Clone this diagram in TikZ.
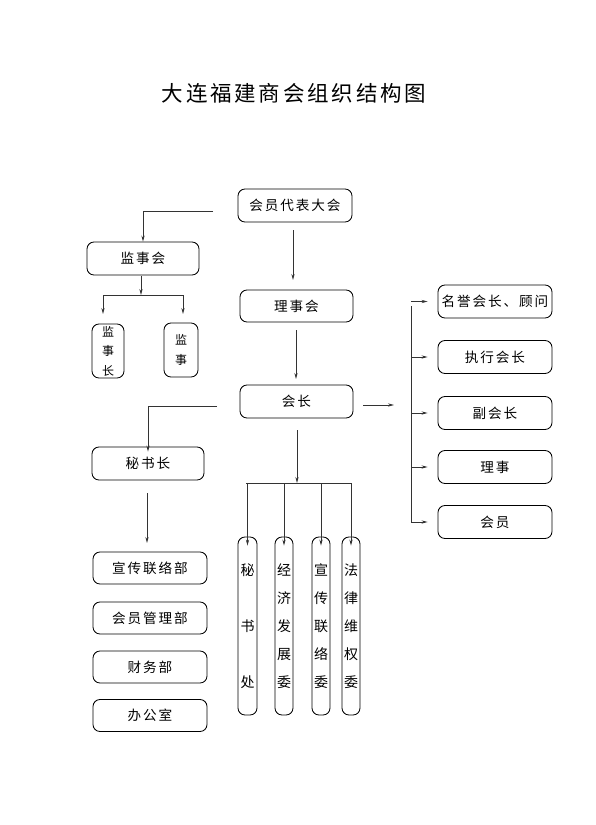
\documentclass[tikz,border=0pt]{standalone}
\usepackage{fontspec}
\newfontfamily\cjk[LetterSpace=14]{Noto Sans CJK SC}
\newfontfamily\cjktitle[LetterSpace=13]{Noto Sans CJK SC}
\usetikzlibrary{arrows.meta}
\begin{document}
\begin{tikzpicture}[x=1pt,y=-1pt,
  box/.style={draw=black, line width=0.85pt, rounded corners=7pt, inner sep=0pt,
    font=\cjk\fontsize{13.6}{16}\selectfont},
  hbox/.style={box, minimum width=114pt, minimum height=33pt},
  vbox/.style={box, minimum width=18pt, minimum height=178pt, align=center,
    font=\cjk\fontsize{14}{28}\selectfont},
  line/.style={draw=black!80, line width=0.7pt},
  arr/.style={line, -{Stealth[length=6pt,width=3.2pt]}},
]
\useasboundingbox (0,0) rectangle (595,825);
\node[font=\cjktitle\fontsize{21.5}{24}\selectfont] (title) at (294,93) {大连福建商会组织结构图};

% main column
\node[hbox] (dbdh) at (295,205.5) {会员代表大会};
\node[hbox, minimum width=113pt, minimum height=32pt] (lsh) at (296.5,306) {理事会};
\node[hbox, minimum width=113pt] (hz) at (296.5,401.5) {会长};

% supervisory
\node[hbox, minimum width=112pt] (jsh) at (143,258.5) {监事会};
\node[box, minimum width=32pt, minimum height=54pt, align=center,
  font=\cjk\fontsize{12}{19.5}\selectfont] (jsz) at (108,351) {监\\事\\长};
\node[box, minimum width=34pt, minimum height=54pt, align=center,
  font=\cjk\fontsize{12}{20}\selectfont] (js2) at (181,350) {监\\事};

% secretary-general
\node[hbox, minimum width=112pt] (msz) at (148,463.5) {秘书长};
\node[hbox, minimum height=32pt] (xclb) at (150,568) {宣传联络部};
\node[hbox, minimum height=32pt] (hygl) at (150,618) {会员管理部};
\node[hbox, minimum height=32pt] (cwb) at (150,667) {财务部};
\node[hbox, minimum height=32pt] (bgs) at (150,715.5) {办公室};

% committees
\node[vbox, minimum width=19pt, font=\cjk\fontsize{14}{56}\selectfont] (v1) at (247.5,626) {秘\\书\\处};
\node[vbox] (v2) at (284,626) {经\\济\\发\\展\\委};
\node[vbox] (v3) at (321,626) {宣\\传\\联\\络\\委};
\node[vbox] (v4) at (351,626) {法\\律\\维\\权\\委};

% right column
\node[hbox] (r1) at (495,301.5) {名誉会长、顾问};
\node[hbox] (r2) at (495,357) {执行会长};
\node[hbox] (r3) at (495,413) {副会长};
\node[hbox] (r4) at (495,467) {理事};
\node[hbox] (r5) at (495,522) {会员};

% coordinates for free ends
\coordinate (c1) at (213,211);
\coordinate (c2s) at (293,230); \coordinate (c2e) at (293,280);
\coordinate (c3s) at (141,276); \coordinate (c3e) at (141,295);
\coordinate (b1l) at (103,295); \coordinate (b1r) at (183,295);
\coordinate (b1la) at (103,314); \coordinate (b1ra) at (183,314);
\coordinate (c4s) at (296,330); \coordinate (c4e) at (296,379);
\coordinate (c5) at (217,406);
\coordinate (c6s) at (297,430); \coordinate (c6e) at (297,483);
\coordinate (b2l) at (246,483); \coordinate (b2r) at (352,483);
\coordinate (c7s) at (363,405); \coordinate (c7e) at (394,405);
\coordinate (bt) at (411,306); \coordinate (bb) at (411,522);
\coordinate (c9s) at (147,493); \coordinate (c9e) at (147,543);

% connectors
\draw[arr] (c1) -| (jsh.north);
\draw[arr] (c2s) -- (c2e);
\draw[arr] (c3s) -- (c3e);
\draw[line, line width=1pt] (b1l) -- (b1r);
\draw[arr] (b1l) -- (b1la);
\draw[arr] (b1r) -- (b1ra);
\draw[arr] (c4s) -- (c4e);
\draw[arr] (c5) -| ([yshift=-5pt]msz.north);
\draw[arr] (c6s) -- (c6e);
\draw[line, line width=1pt] (b2l) -- (b2r);
\foreach \v in {v1,v2,v3,v4}{
  \draw[arr] (b2l -| \v) -- ([yshift=-9pt]\v.north);
}
\draw[arr] (c7s) -- (c7e);
\draw[line] (bt) -- (bb);
\foreach \r in {r1,r2,r3,r4,r5}{
  \draw[arr] (bt |- \r) -- ([xshift=-10pt]\r.west);
}
\draw[arr] (c9s) -- (c9e);
\end{tikzpicture}
\end{document}
